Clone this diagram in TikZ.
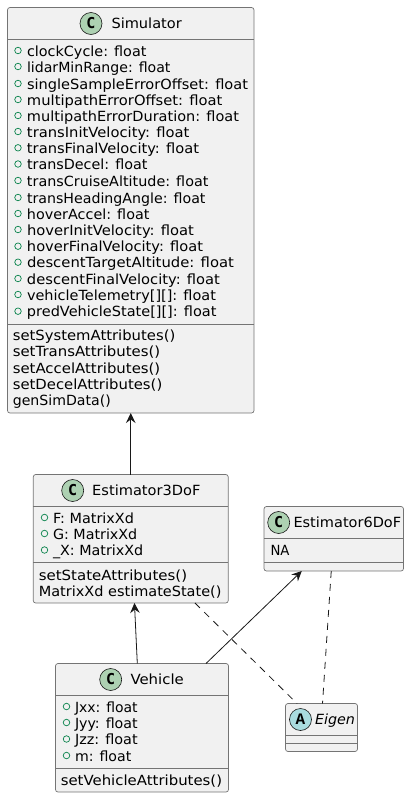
\documentclass[tikz,border=0pt]{standalone}
\usepackage{fontspec}
\usepackage{graphicx}
\setmainfont{DejaVu Sans}
\newfontfamily\glyphfont{DejaVu Sans Mono}
\newfontfamily\glyphfontb{Liberation Mono}
\usetikzlibrary{arrows.meta}
\definecolor{linec}{HTML}{181818}
\definecolor{boxfill}{HTML}{F1F1F1}
\definecolor{spotc}{HTML}{ADD1B2}
\definecolor{spota}{HTML}{A9DCDF}
\definecolor{visc}{HTML}{038048}
\tikzset{
  classbox/.style={draw=linec!60,line width=0.7pt,fill=boxfill,rounded corners=2.5pt,inner sep=0pt,outer sep=0pt},
  sepline/.style={draw=linec!60,line width=0.7pt},
  txt/.style={anchor=base west,inner sep=0pt,outer sep=0pt,font=\fontsize{14}{16}\selectfont,text=black},
  spot/.style={circle,draw=linec,line width=0.6pt,minimum size=22pt,inner sep=0pt,font=\glyphfont\bfseries\fontsize{15}{15}\selectfont},
  vis/.style={circle,draw=visc,line width=0.7pt,minimum size=6.5pt,inner sep=0pt},
  assoc/.style={draw=linec,line width=0.8pt,-{Stealth[length=10pt,width=9.5pt,inset=3.5pt]}},
  dep/.style={draw=linec,line width=0.8pt,dash pattern=on 7pt off 6pt},
}
\newcommand{\fitw}[2]{\resizebox{#1pt}{\height}{#2}}
\newcommand{\attr}[6]{%
  \node[vis] (#1v) at (#2,#4-5.5) {};
  \node[txt] (#1) at (#3,#4) {\fitw{#5}{#6}};}
\newcommand{\meth}[5]{\node[txt] (#1) at (#2,#3) {\fitw{#4}{#5}};}
\begin{document}
\begin{tikzpicture}[x=1pt,y=-1pt]
\useasboundingbox (0,0) rectangle (409,798);
% boxes
\node[classbox,minimum width=246.5pt,minimum height=405.5pt] (sim) at (130.75,210.25) {};
\node[classbox,minimum width=195pt,minimum height=128.5pt] (est3) at (130.75,538.75) {};
\node[classbox,minimum width=139.5pt,minimum height=64.5pt] (est6) at (333.75,538.75) {};
\node[classbox,minimum width=173pt,minimum height=128.5pt] (veh) at (142,727.75) {};
\node[classbox,minimum width=72pt,minimum height=48pt] (eig) at (321.5,727.5) {};
% compartments
\draw[sepline] (sim.west |- 0,39.5) -- (sim.east |- 0,39.5);
\draw[sepline] (sim.west |- 0,324.5) -- (sim.east |- 0,324.5);
\draw[sepline] (est3.west |- 0,506.5) -- (est3.east |- 0,506.5);
\draw[sepline] (est3.west |- 0,562.5) -- (est3.east |- 0,562.5);
\draw[sepline] (est6.west |- 0,538.5) -- (est6.east |- 0,538.5);
\draw[sepline] (est6.west |- 0,562.5) -- (est6.east |- 0,562.5);
\draw[sepline] (veh.west |- 0,695.5) -- (veh.east |- 0,695.5);
\draw[sepline] (veh.west |- 0,768.5) -- (veh.east |- 0,768.5);
\draw[sepline] (eig.west |- 0,735.5) -- (eig.east |- 0,735.5);
\draw[sepline] (eig.west |- 0,743.5) -- (eig.east |- 0,743.5);
% headers
\node[spot,fill=spotc] (simc) at (91,23.5) {C};
\node[txt] (simt) at (111.5,28) {\fitw{70.3}{Simulator}};
\node[spot,fill=spotc] (est3c) at (72.7,490.5) {C};
\node[txt] (est3t) at (92.2,495) {\fitw{108.3}{Estimator3DoF}};
\node[spot,fill=spotc] (est6c) at (278.7,522.5) {C};
\node[txt] (est6t) at (293.5,527) {\fitw{107.7}{Estimator6DoF}};
\node[spot,fill=spotc] (vehc) at (110.7,679.5) {C};
\node[txt] (veht) at (130.5,684) {\fitw{53.3}{Vehicle}};
\node[spot,fill=spota,font=\glyphfontb\bfseries\fontsize{16}{16}\selectfont] (eigc) at (300.5,719.5) {A};
\node[txt,font=\fontsize{14}{16}\selectfont\itshape] (eigt) at (315,724) {\fitw{40}{Eigen}};
% Simulator members
\attr{s1}{18}{27}{56}{119.5}{clockCycle: float}
\attr{s2}{18}{27}{72}{143.5}{lidarMinRange: float}
\attr{s3}{18}{27}{89}{221}{singleSampleErrorOffset: float}
\attr{s4}{18}{27}{105}{195.5}{multipathErrorOffset: float}
\attr{s5}{18}{27}{121}{212}{multipathErrorDuration: float}
\attr{s6}{18}{27}{137}{162.5}{transInitVelocity: float}
\attr{s7}{18}{27}{153.3}{172}{transFinalVelocity: float}
\attr{s8}{18}{27}{169.5}{120.5}{transDecel: float}
\attr{s9}{18}{27}{186}{181.5}{transCruiseAltitude: float}
\attr{s10}{18}{27}{203}{178.5}{transHeadingAngle: float}
\attr{s11}{18}{27}{219}{122.5}{hoverAccel: float}
\attr{s12}{18}{27}{235}{167}{hoverInitVelocity: float}
\attr{s13}{18}{27}{251.7}{176}{hoverFinalVelocity: float}
\attr{s14}{18}{27}{267.7}{207}{descentTargetAltitude: float}
\attr{s15}{18}{27}{284}{193}{descentFinalVelocity: float}
\attr{s16}{18}{27}{300}{189}{vehicleTelemetry[][]: float}
\attr{s17}{18}{27}{316.7}{189.5}{predVehicleState[][]: float}
\meth{m1}{12.8}{340.5}{162.5}{setSystemAttributes()}
\meth{m2}{12.8}{356.7}{147.5}{setTransAttributes()}
\meth{m3}{12.8}{373}{147.5}{setAccelAttributes()}
\meth{m4}{12.8}{389.3}{149.5}{setDecelAttributes()}
\meth{m5}{12.8}{405.5}{98}{genSimData()}
% Estimator3DoF members
\attr{e1}{44.5}{53}{523}{81}{F: MatrixXd}
\attr{e2}{44.5}{53}{539}{84.3}{G: MatrixXd}
\attr{e3}{44.5}{53}{555.5}{90.3}{\_X: MatrixXd}
\meth{e4}{38.8}{580}{148.3}{setStateAttributes()}
\meth{e5}{38.8}{596}{182.7}{MatrixXd estimateState()}
% Estimator6DoF members
\meth{f1}{270.5}{555}{19}{NA}
% Vehicle members
\attr{v1}{66.5}{75}{712}{62.7}{Jxx: float}
\attr{v2}{66.5}{75}{728}{62.7}{Jyy: float}
\attr{v3}{66.5}{75}{744.5}{62.7}{Jzz: float}
\attr{v4}{66.5}{75}{761}{56.3}{m: float}
\meth{v5}{60.8}{785}{161.3}{setVehicleAttributes()}
% connector ends on the box borders
\coordinate (vehTopA) at ([xshift=-4.7pt]veh.north);
\coordinate (est3BotA) at ([xshift=3.7pt]est3.south);
\coordinate (vehTopB) at ([xshift=64pt]veh.north);
\coordinate (est6BotA) at ([xshift=-32pt]est6.south);
\coordinate (est3BotB) at ([xshift=64.2pt]est3.south);
\coordinate (eigTopA) at ([xshift=-24.5pt]eig.north);
\coordinate (est6BotB) at ([xshift=-2.5pt]est6.south);
\coordinate (eigTopB) at ([xshift=1pt]eig.north);
% connectors
\draw[assoc] (est3.north) -- (sim.south);
\draw[assoc] (vehTopA) -- (est3BotA);
\draw[assoc] (vehTopB) -- (est6BotA);
\draw[dep] (est3BotB) -- (eigTopA);
\draw[dep] (est6BotB) -- (eigTopB);
\end{tikzpicture}
\end{document}
